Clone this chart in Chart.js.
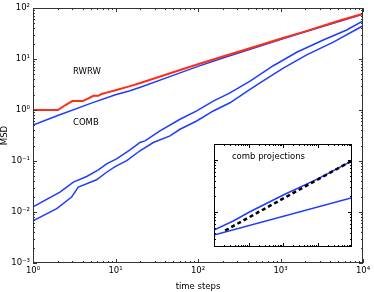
<!DOCTYPE html>
<html>
<head>
<meta charset="utf-8">
<script src="https://cdn.jsdelivr.net/npm/chart.js@4.4.0/dist/chart.umd.min.js"></script>
<style>
  html, body { margin: 0; padding: 0; background: #fff; }
  #wrap { position: relative; width: 374px; height: 292px; }
  #main { position: absolute; left: 0; top: 0; }
  #inset { position: absolute; left: 214px; top: 144px; }
</style>
</head>
<body>
<div id="wrap">
  <canvas id="main" width="374" height="292"></canvas>
  <canvas id="inset" width="138" height="103"></canvas>
</div>
<script>
// --- DATA (main panel) ---
const rwrwX = [1, 2, 2.5, 3, 4, 4.7, 5.4, 6.2, 6.8, 7.8, 10, 15, 20, 30, 50, 100, 200, 500, 1000, 2000, 5000, 10000];
const rwrwY = [1, 1, 1.27, 1.5, 1.5, 1.7, 1.9, 1.9, 2.07, 2.2, 2.45, 2.95, 3.4, 4.2, 5.5, 7.9, 11.2, 17.7, 25, 35, 56, 78];

const combX = [1, 2, 5, 10, 15, 20, 50, 100, 200, 500, 1000, 2000, 5000, 10000];
const combY = [0.51, 0.78, 1.35, 2.0, 2.4, 2.8, 4.8, 7.2, 10.5, 16.8, 24.2, 34.3, 54, 76];

const projAX = [1, 2.12, 3.08, 4.47, 6.2, 7.8, 10.3, 15, 19.8, 22.8, 34.6, 60.5, 96.4, 153, 244, 427, 818, 1572, 3300, 6340, 10000];
const projAY = [0.0126, 0.0246, 0.0385, 0.0497, 0.067, 0.088, 0.11, 0.165, 0.231, 0.249, 0.39, 0.66, 0.96, 1.5, 2.17, 3.7, 7.4, 13.6, 23.7, 37.2, 56];

const projBX = [1, 1.94, 2.94, 3.54, 5.9, 7.8, 9.9, 13.7, 19.8, 28.7, 45.8, 60.5, 96.4, 153, 244, 427, 564, 1081, 2076, 4365, 10000];
const projBY = [0.0067, 0.0117, 0.0197, 0.0308, 0.0429, 0.0603, 0.0778, 0.102, 0.159, 0.231, 0.312, 0.42, 0.61, 0.96, 1.39, 2.55, 3.4, 6.65, 12.1, 21.5, 45];

// --- DATA (inset: comb projections) ---
const insetUpX = [1, 3.6, 11, 102, 950, 10000];
const insetUpY = [0.45, 0.67, 1.01, 2.12, 4.25, 9.6];
const insetLowX = [1, 10000];
const insetLowY = [0.36, 1.88];
const insetFitX = [2.1, 10000];
const insetFitY = [0.44, 9.7];

// tick labels
const xDecades = [1, 10, 100, 1000, 10000];
const yDecades = [0.001, 0.01, 0.1, 1, 10, 100];

const RED = '#ff2d12';
const BLUE = '#1f3cff';
const FONT = 'DejaVu Sans';

Chart.defaults.font.family = FONT;
Chart.defaults.font.size = 8.5;
Chart.defaults.color = '#000';

// --- UTILITY FUNCTIONS ---
const SUP = { '-': '⁻', '0': '⁰', '1': '¹', '2': '²', '3': '³', '4': '⁴', '5': '⁵', '6': '⁶', '7': '⁷', '8': '⁸', '9': '⁹' };
function powLabel(v) {
    const e = String(Math.round(Math.log10(v)));
    return '10' + e.split('').map(c => SUP[c]).join('');
}

function toPoints(xs, ys) {
    return xs.map((x, i) => ({ x, y: ys[i] }));
}

// small inside ticks on all four sides, log scales
function drawLogTicks(ctx, scale, area, horizontal) {
    const lo = Math.floor(Math.log10(scale.min));
    const hi = Math.ceil(Math.log10(scale.max));
    for (let d = lo; d <= hi; d++) {
        for (let m = 1; m <= 9; m++) {
            const v = m * Math.pow(10, d);
            if (v < scale.min * 0.999 || v > scale.max * 1.001) continue;
            const len = m === 1 ? 4 : 2;
            const p = Math.round(scale.getPixelForValue(v)) + 0.5;
            ctx.beginPath();
            if (horizontal) {
                ctx.moveTo(p, area.bottom); ctx.lineTo(p, area.bottom - len);
                ctx.moveTo(p, area.top); ctx.lineTo(p, area.top + len);
            } else {
                ctx.moveTo(area.left, p); ctx.lineTo(area.left + len, p);
                ctx.moveTo(area.right, p); ctx.lineTo(area.right - len, p);
            }
            ctx.stroke();
        }
    }
}

const frameTicks = {
    id: 'frameTicks',
    beforeDraw(chart, args, opts) {
        if (opts.fill) {
            const { ctx, width, height } = chart;
            ctx.save();
            ctx.fillStyle = '#fff';
            ctx.fillRect(0, 0, width, height);
            ctx.restore();
        }
    },
    afterDraw(chart, args, opts) {
        const { ctx, chartArea: a, scales } = chart;
        ctx.save();
        ctx.strokeStyle = opts.color;
        ctx.lineWidth = 1;
        drawLogTicks(ctx, scales.x, a, true);
        drawLogTicks(ctx, scales.y, a, false);
        ctx.strokeRect(Math.round(a.left) + 0.5, Math.round(a.top) + 0.5,
            Math.round(a.right - a.left) - 1, Math.round(a.bottom - a.top) - 1);
        // text notes placed in data coordinates
        ctx.fillStyle = '#000';
        ctx.font = '8.5px "' + FONT + '"';
        ctx.textBaseline = 'middle';
        ctx.textAlign = 'left';
        (opts.notes || []).forEach(n => {
            ctx.fillText(n.text, scales.x.getPixelForValue(n.x), scales.y.getPixelForValue(n.y));
        });
        ctx.restore();
    }
};

function lineSet(label, xs, ys, color, width, dash) {
    return {
        label,
        data: toPoints(xs, ys),
        borderColor: color,
        backgroundColor: color,
        borderWidth: width,
        borderDash: dash || [],
        pointRadius: 0,
        tension: 0,
        fill: false
    };
}

// --- MAIN CHART ---
new Chart(document.getElementById('main'), {
    type: 'line',
    data: {
        datasets: [
            lineSet('RWRW', rwrwX, rwrwY, RED, 2),
            lineSet('COMB', combX, combY, BLUE, 1.5),
            lineSet('proj A', projAX, projAY, BLUE, 1.5),
            lineSet('proj B', projBX, projBY, BLUE, 1.5)
        ]
    },
    options: {
        responsive: false,
        devicePixelRatio: 1,
        animation: false,
        layout: { padding: { left: 0, right: 11, top: 6, bottom: 0 } },
        plugins: {
            legend: { display: false },
            tooltip: { enabled: false },
            frameTicks: {
                color: '#333',
                notes: [
                    { text: 'RWRW', x: 3.05, y: 5.7 },
                    { text: 'COMB', x: 3.05, y: 0.56 }
                ]
            }
        },
        scales: {
            x: {
                type: 'logarithmic',
                min: 1, max: 10000,
                afterBuildTicks: s => { s.ticks = xDecades.map(v => ({ value: v })); },
                afterFit: s => { s.height = 29; },
                grid: { display: false, drawTicks: false },
                border: { display: false },
                ticks: { callback: v => powLabel(v), maxRotation: 0, autoSkip: false, padding: 3 },
                title: { display: true, text: 'time steps', padding: { top: 0, bottom: 0 } }
            },
            y: {
                type: 'logarithmic',
                min: 0.001, max: 100,
                afterBuildTicks: s => { s.ticks = yDecades.map(v => ({ value: v })); },
                afterFit: s => { s.width = 33; },
                grid: { display: false, drawTicks: false },
                border: { display: false },
                ticks: { callback: v => powLabel(v), autoSkip: false, padding: 3 },
                title: { display: true, text: 'MSD', padding: { top: 0, bottom: 0 } }
            }
        }
    },
    plugins: [frameTicks]
});

// --- INSET CHART ---
new Chart(document.getElementById('inset'), {
    type: 'line',
    data: {
        datasets: [
            lineSet('fit', insetFitX, insetFitY, '#000', 2.5, [4, 3]),
            lineSet('upper', insetUpX, insetUpY, BLUE, 1.5),
            lineSet('lower', insetLowX, insetLowY, BLUE, 1.5)
        ]
    },
    options: {
        responsive: false,
        devicePixelRatio: 1,
        animation: false,
        layout: { padding: 0 },
        plugins: {
            legend: { display: false },
            tooltip: { enabled: false },
            frameTicks: {
                fill: true,
                color: '#000',
                notes: [{ text: 'comb projections', x: 3.3, y: 11.4 }]
            }
        },
        scales: {
            x: { type: 'logarithmic', min: 1, max: 10000, display: false },
            y: { type: 'logarithmic', min: 0.212, max: 20.3, display: false }
        }
    },
    plugins: [frameTicks]
});
</script>
</body>
</html>
